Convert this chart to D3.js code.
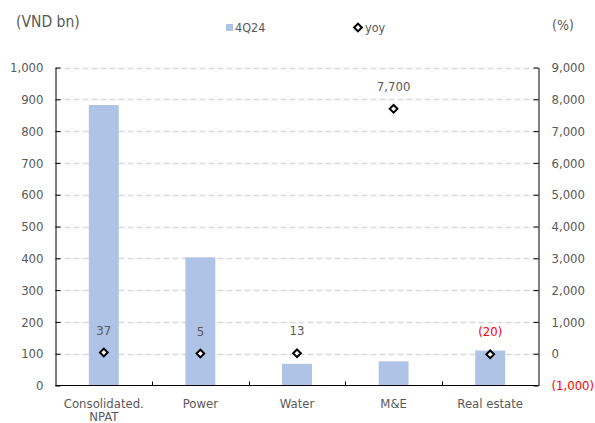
<!DOCTYPE html>
<html>
<head>
<meta charset="utf-8">
<script src="https://cdn.jsdelivr.net/npm/d3@7"></script>
<style>
  html, body { margin: 0; padding: 0; background: #fff; }
  svg text { font-family: "DejaVu Sans Condensed", "DejaVu Sans", sans-serif; }
</style>
</head>
<body>
<svg id="chart" width="595" height="423"></svg>
<script>
// Net profit by segment (VND bn) and year-on-year growth (%)
const categories = ["Consolidated.\nNPAT", "Power", "Water", "M&E", "Real estate"];
const profit4Q24 = [882, 403, 68, 76, 110];
const yoyGrowth = [37, 5, 13, 7700, -20];
const yoyLabels = ["37", "5", "13", "7,700", "(20)"];
const leftTicks = [0, 100, 200, 300, 400, 500, 600, 700, 800, 900, 1000];
const rightTicks = [-1000, 0, 1000, 2000, 3000, 4000, 5000, 6000, 7000, 8000, 9000];

const svg = d3.select("#chart");
const plotLeft = 55.5, plotRight = 538.5, plotTop = 67.5, plotBottom = 385.5;
const textColor = "#595959";
const barColor = "#aec3e6";

const x = d3.scaleBand().domain(categories).range([plotLeft, plotRight]).paddingInner(0.69).paddingOuter(0.345);
const xBound = d3.scaleBand().domain(categories).range([plotLeft, plotRight]);
const yL = d3.scaleLinear().domain([0, 1000]).range([plotBottom, plotTop]);
const yR = d3.scaleLinear().domain([-1000, 9000]).range([plotBottom, plotTop]);

const fmt = v => v < 0 ? "(" + d3.format(",")(-v) + ")" : d3.format(",")(v);

// dashed gridlines
svg.append("g").selectAll("line").data(leftTicks.filter(d => d > 0)).join("line")
  .attr("x1", plotLeft).attr("x2", plotRight)
  .attr("y1", d => Math.round(yL(d)) + 0.5).attr("y2", d => Math.round(yL(d)) + 0.5)
  .attr("stroke", "#d9d9d9").attr("stroke-width", 1.3).attr("stroke-dasharray", "6,3");

// bars
svg.append("g").selectAll("rect").data(categories).join("rect")
  .attr("x", d => x(d)).attr("width", x.bandwidth())
  .attr("y", (d, i) => yL(profit4Q24[i]))
  .attr("height", (d, i) => plotBottom - yL(profit4Q24[i]))
  .attr("fill", barColor);

// left axis
const axL = svg.append("g").attr("transform", `translate(${plotLeft},0)`)
  .call(d3.axisLeft(yL).tickValues(leftTicks).tickFormat(d3.format(",")).tickSizeInner(-5).tickSizeOuter(0).tickPadding(12));
axL.select(".domain").attr("stroke", "#000");
axL.selectAll(".tick line").attr("stroke", "#000");
axL.selectAll("text").attr("fill", textColor).attr("font-size", 13);

// right axis
const axR = svg.append("g").attr("transform", `translate(${plotRight},0)`)
  .call(d3.axisRight(yR).tickValues(rightTicks).tickFormat(fmt).tickSizeInner(-5).tickSizeOuter(0).tickPadding(13));
axR.select(".domain").attr("stroke", "#000");
axR.selectAll(".tick line").attr("stroke", "#000");
axR.selectAll("text").attr("fill", d => d < 0 ? "#ff0000" : textColor).attr("font-size", 13);

// bottom axis with ticks at category boundaries
svg.append("line").attr("x1", plotLeft).attr("x2", plotRight).attr("y1", plotBottom).attr("y2", plotBottom)
  .attr("stroke", "#000");
svg.append("g").selectAll("line").data(categories.slice(1)).join("line")
  .attr("x1", d => Math.round(xBound(d)) + 0.5).attr("x2", d => Math.round(xBound(d)) + 0.5)
  .attr("y1", plotBottom).attr("y2", plotBottom - 4).attr("stroke", "#000");

// category labels (two-line label kept inside the canvas)
const xl = svg.append("g").selectAll("text").data(categories).join("text")
  .attr("text-anchor", "middle").attr("fill", textColor).attr("font-size", 13)
  .attr("transform", d => `translate(${x(d) + x.bandwidth() / 2},${plotBottom + 22})`);
xl.each(function(d) {
  d.split("\n").forEach((line, k) => {
    d3.select(this).append("tspan").attr("x", 0).attr("dy", k === 0 ? 0 : 13.5).text(line);
  });
});

// yoy markers
const diamond = d3.symbol().type(d3.symbolDiamond2).size(38);
svg.append("g").selectAll("path").data(categories).join("path")
  .attr("d", diamond)
  .attr("transform", (d, i) => `translate(${x(d) + x.bandwidth() / 2},${yR(yoyGrowth[i])})`)
  .attr("fill", "#fff").attr("stroke", "#000").attr("stroke-width", 2);

// yoy labels
svg.append("g").selectAll("text").data(categories).join("text")
  .attr("x", d => x(d) + x.bandwidth() / 2)
  .attr("y", (d, i) => yR(yoyGrowth[i]) - 18)
  .attr("text-anchor", "middle").attr("font-size", 13)
  .attr("fill", (d, i) => yoyGrowth[i] < 0 ? "#ff0000" : textColor)
  .text((d, i) => yoyLabels[i]);

// axis titles
svg.append("text").attr("x", 16).attr("y", 27).attr("font-size", 15.5).attr("fill", textColor).text("(VND bn)");
svg.append("text").attr("x", 552).attr("y", 30).attr("font-size", 14).attr("fill", textColor).text("(%)");

// legend
svg.append("rect").attr("x", 226).attr("y", 24).attr("width", 7).attr("height", 7).attr("fill", barColor);
svg.append("text").attr("x", 235).attr("y", 32).attr("font-size", 12.5).attr("fill", textColor).text("4Q24");
svg.append("path").attr("d", diamond).attr("transform", "translate(358,27.5)")
  .attr("fill", "#fff").attr("stroke", "#000").attr("stroke-width", 2);
svg.append("text").attr("x", 365).attr("y", 32).attr("font-size", 12.5).attr("fill", textColor).text("yoy");
</script>
</body>
</html>
